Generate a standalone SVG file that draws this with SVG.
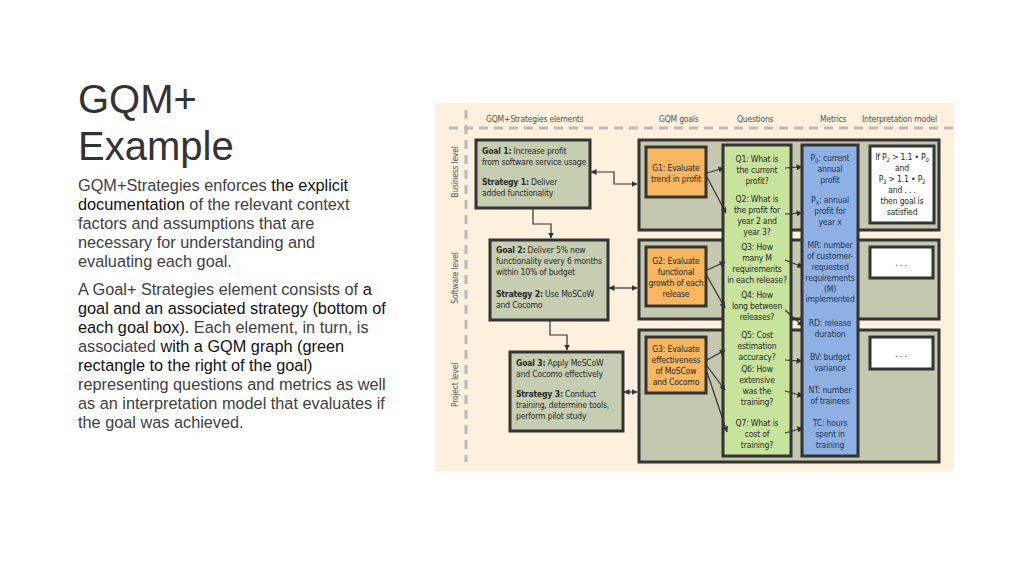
<svg xmlns="http://www.w3.org/2000/svg" width="1024" height="576" viewBox="0 0 1024 576">
<style>
.t{font-family:"Liberation Sans",Arial,sans-serif;font-size:16.3px;fill:#404040}
.b{fill:#111}
.n{font-family:"Liberation Sans Narrow","DejaVu Sans Condensed","Liberation Sans",sans-serif;font-size:8.6px;fill:#2a2a2a;letter-spacing:-0.2px}
.h{font-family:"Liberation Sans Narrow","DejaVu Sans Condensed","Liberation Sans",sans-serif;font-size:8.5px;fill:#555;letter-spacing:-0.2px}
.c{text-anchor:middle}
.m{fill:#1e3558}
.box{stroke:#333;stroke-width:3}
.goal{fill:#c5ceb1}
.band{fill:#c3c8ae}
.or{fill:#f7b65f}
.q{fill:#c7e39c}
.me{fill:#8fb0e2}
.w{fill:#fff}
.cn{stroke:#333;stroke-width:1.2;fill:none}
.bd{font-weight:bold}
</style>
<defs>
<marker id="a" viewBox="0 0 6 6" refX="5.5" refY="3" markerWidth="5" markerHeight="5" orient="auto-start-reverse"><path d="M0,0L6,3L0,6z" fill="#333"/></marker>
</defs>
<rect width="1024" height="576" fill="#fff"/>
<g id="title">
<text x="78" y="113" style="font-family:'Liberation Sans',Arial,sans-serif;font-size:40px;fill:#333">GQM+</text>
<text x="78" y="160" style="font-family:'Liberation Sans',Arial,sans-serif;font-size:40px;fill:#333">Example</text>
</g>
<g id="body" class="t">
<text x="78" y="191">GQM+Strategies enforces <tspan class="b">the explicit</tspan></text>
<text x="78" y="210"><tspan class="b">documentation</tspan> of the relevant context</text>
<text x="78" y="229">factors and assumptions that are</text>
<text x="78" y="248">necessary for understanding and</text>
<text x="78" y="267">evaluating each goal.</text>
<text x="78" y="295">A Goal+ Strategies element consists of <tspan class="b">a</tspan></text>
<text x="78" y="314"><tspan class="b">goal and an associated strategy (bottom of</tspan></text>
<text x="78" y="333"><tspan class="b">each goal box).</tspan> Each element, in turn, is</text>
<text x="78" y="352">associated <tspan class="b">with a GQM graph (green</tspan></text>
<text x="78" y="371"><tspan class="b">rectangle to the right of the goal)</tspan></text>
<text x="78" y="390">representing questions and metrics as well</text>
<text x="78" y="409">as an interpretation model that evaluates if</text>
<text x="78" y="428">the goal was achieved.</text>
</g>
<g id="panel">
<rect x="435" y="103" width="519" height="368" fill="#fdf0dc"/>
<path d="M449 128H954M466 110V462" stroke="#b9b9b9" stroke-width="3" stroke-dasharray="9,6" fill="none"/>
<text class="h" x="486" y="122">GQM+Strategies elements</text>
<text class="h" x="659" y="122">GQM goals</text>
<text class="h" x="737" y="122">Questions</text>
<text class="h" x="820" y="122">Metrics</text>
<text class="h" x="862" y="122">Interpretation model</text>
<text class="h" transform="translate(458,172) rotate(-90)" text-anchor="middle">Business level</text>
<text class="h" transform="translate(458,278) rotate(-90)" text-anchor="middle">Software level</text>
<text class="h" transform="translate(458,385) rotate(-90)" text-anchor="middle">Project level</text>
</g>
<g id="bands">
<rect class="box band" x="639" y="140" width="300" height="90"/>
<rect class="box band" x="639" y="240" width="300" height="79"/>
<rect class="box band" x="639" y="330" width="300" height="132"/>
</g>
<g id="goal1"><rect class="box goal" x="476" y="140" width="114" height="68"/>
<text class="n" x="482" y="154"><tspan class="bd">Goal 1:</tspan> Increase profit</text>
<text class="n" x="482" y="165">from software service usage</text>
<text class="n" x="482" y="185"><tspan class="bd">Strategy 1:</tspan> Deliver</text>
<text class="n" x="482" y="196">added functionality</text></g>
<g id="goal2"><rect class="box goal" x="490" y="240" width="118" height="80"/>
<text class="n" x="496" y="253"><tspan class="bd">Goal 2:</tspan> Deliver 5% new</text>
<text class="n" x="496" y="264">functionality every 6 months</text>
<text class="n" x="496" y="275">within 10% of budget</text>
<text class="n" x="496" y="297"><tspan class="bd">Strategy 2:</tspan> Use MoSCoW</text>
<text class="n" x="496" y="308">and Cocomo</text></g>
<g id="goal3"><rect class="box goal" x="510" y="352" width="113" height="79"/>
<text class="n" x="516" y="366"><tspan class="bd">Goal 3:</tspan> Apply MoSCoW</text>
<text class="n" x="516" y="377">and Cocomo effectively</text>
<text class="n" x="516" y="397"><tspan class="bd">Strategy 3:</tspan> Conduct</text>
<text class="n" x="516" y="408">training, determine tools,</text>
<text class="n" x="516" y="419">perform pilot study</text></g>
<g id="g1"><rect class="box or" x="646" y="147" width="60" height="50"/>
<text class="n c" x="676" y="171">G1: Evaluate</text><text class="n c" x="676" y="182">trend in profit</text></g>
<g id="g2"><rect class="box or" x="646" y="247" width="60" height="59"/>
<text class="n c" x="676" y="264">G2: Evaluate</text><text class="n c" x="676" y="275">functional</text><text class="n c" x="676" y="286">growth of each</text><text class="n c" x="676" y="297">release</text></g>
<g id="g3"><rect class="box or" x="646" y="337" width="60" height="56"/>
<text class="n c" x="676" y="352">G3: Evaluate</text><text class="n c" x="676" y="363">effectiveness</text><text class="n c" x="676" y="374">of MoSCow</text><text class="n c" x="676" y="385">and Cocomo</text></g>
<g id="questions"><rect class="box q" x="723" y="145" width="68" height="311"/>
<g class="n c">
<text x="757" y="162">Q1: What is</text><text x="757" y="173">the current</text><text x="757" y="184">profit?</text>
<text x="757" y="202">Q2: What is</text><text x="757" y="213">the profit for</text><text x="757" y="224">year 2 and</text><text x="757" y="235">year 3?</text>
<text x="757" y="250">Q3: How</text><text x="757" y="261">many M</text><text x="757" y="272">requirements</text><text x="757" y="283">in each release?</text>
<text x="757" y="298">Q4: How</text><text x="757" y="309">long between</text><text x="757" y="320">releases?</text>
<text x="757" y="338">Q5: Cost</text><text x="757" y="349">estimation</text><text x="757" y="360">accuracy?</text>
<text x="757" y="372">Q6: How</text><text x="757" y="383">extensive</text><text x="757" y="394">was the</text><text x="757" y="405">training?</text>
<text x="757" y="426">Q7: What is</text><text x="757" y="437">cost of</text><text x="757" y="448">training?</text>
</g></g>
<g id="metrics"><rect class="box me" x="802" y="145" width="56" height="311"/>
<g class="n c m">
<text x="830" y="161">P<tspan font-size="6" dy="2">0</tspan><tspan dy="-2">: current</tspan></text><text x="830" y="172">annual</text><text x="830" y="183">profit</text>
<text x="830" y="203">P<tspan font-size="6" dy="2">X</tspan><tspan dy="-2">: annual</tspan></text><text x="830" y="214">profit for</text><text x="830" y="225">year x</text>
<text x="830" y="248">MR: number</text><text x="830" y="259">of customer-</text><text x="830" y="270">requested</text><text x="830" y="281">requirements</text><text x="830" y="292">(M)</text><text x="830" y="302">implemented</text>
<text x="830" y="326">RD: release</text><text x="830" y="337">duration</text>
<text x="830" y="360">BV: budget</text><text x="830" y="371">variance</text>
<text x="830" y="393">NT: number</text><text x="830" y="404">of trainees</text>
<text x="830" y="426">TC: hours</text><text x="830" y="437">spent in</text><text x="830" y="448">training</text>
</g></g>
<g id="interp1"><rect class="box w" x="870" y="146" width="64" height="77"/>
<g class="n c"><text x="902" y="160">If P<tspan font-size="6" dy="2">2</tspan><tspan dy="-2"> &gt; 1.1 • P</tspan><tspan font-size="6" dy="2">0</tspan></text><text x="902" y="171">and</text><text x="902" y="182">P<tspan font-size="6" dy="2">3</tspan><tspan dy="-2"> &gt; 1.1 • P</tspan><tspan font-size="6" dy="2">2</tspan></text><text x="902" y="193">and . . .</text><text x="902" y="204">then goal is</text><text x="902" y="215">satisfied</text></g></g>
<g id="interp2"><rect class="box w" x="870" y="247" width="63" height="31"/><text class="n c" x="901" y="266">. . .</text></g>
<g id="interp3"><rect class="box w" x="870" y="337" width="63" height="32"/><text class="n c" x="901" y="357">. . .</text></g>
<g id="connectors" class="cn">
<path d="M591 172H614V184H637" marker-start="url(#a)" marker-end="url(#a)"/>
<path d="M533 209V224H551V238" marker-end="url(#a)"/>
<path d="M609 288H637" marker-start="url(#a)" marker-end="url(#a)"/>
<path d="M550 321V335H567V350" marker-end="url(#a)"/>
<path d="M624 392H637" marker-start="url(#a)" marker-end="url(#a)"/>
<path d="M707 173L724 168" marker-end="url(#a)"/>
<path d="M707 177L726 213" marker-end="url(#a)"/>
<path d="M707 270L725 262" marker-end="url(#a)"/>
<path d="M707 276L725 308" marker-end="url(#a)"/>
<path d="M707 360L725 350" marker-end="url(#a)"/>
<path d="M707 366L725 390" marker-end="url(#a)"/>
<path d="M707 372L727 432" marker-end="url(#a)"/>
<path d="M785 168L802 167" marker-end="url(#a)"/>
<path d="M785 214L802 213" marker-end="url(#a)"/>
<path d="M785 260L803 267" marker-end="url(#a)"/>
<path d="M785 310L803 326" marker-end="url(#a)"/>
<path d="M785 360L802 361" marker-end="url(#a)"/>
<path d="M785 391L803 396" marker-end="url(#a)"/>
<path d="M785 433L803 428" marker-end="url(#a)"/>
</g>
</svg>
